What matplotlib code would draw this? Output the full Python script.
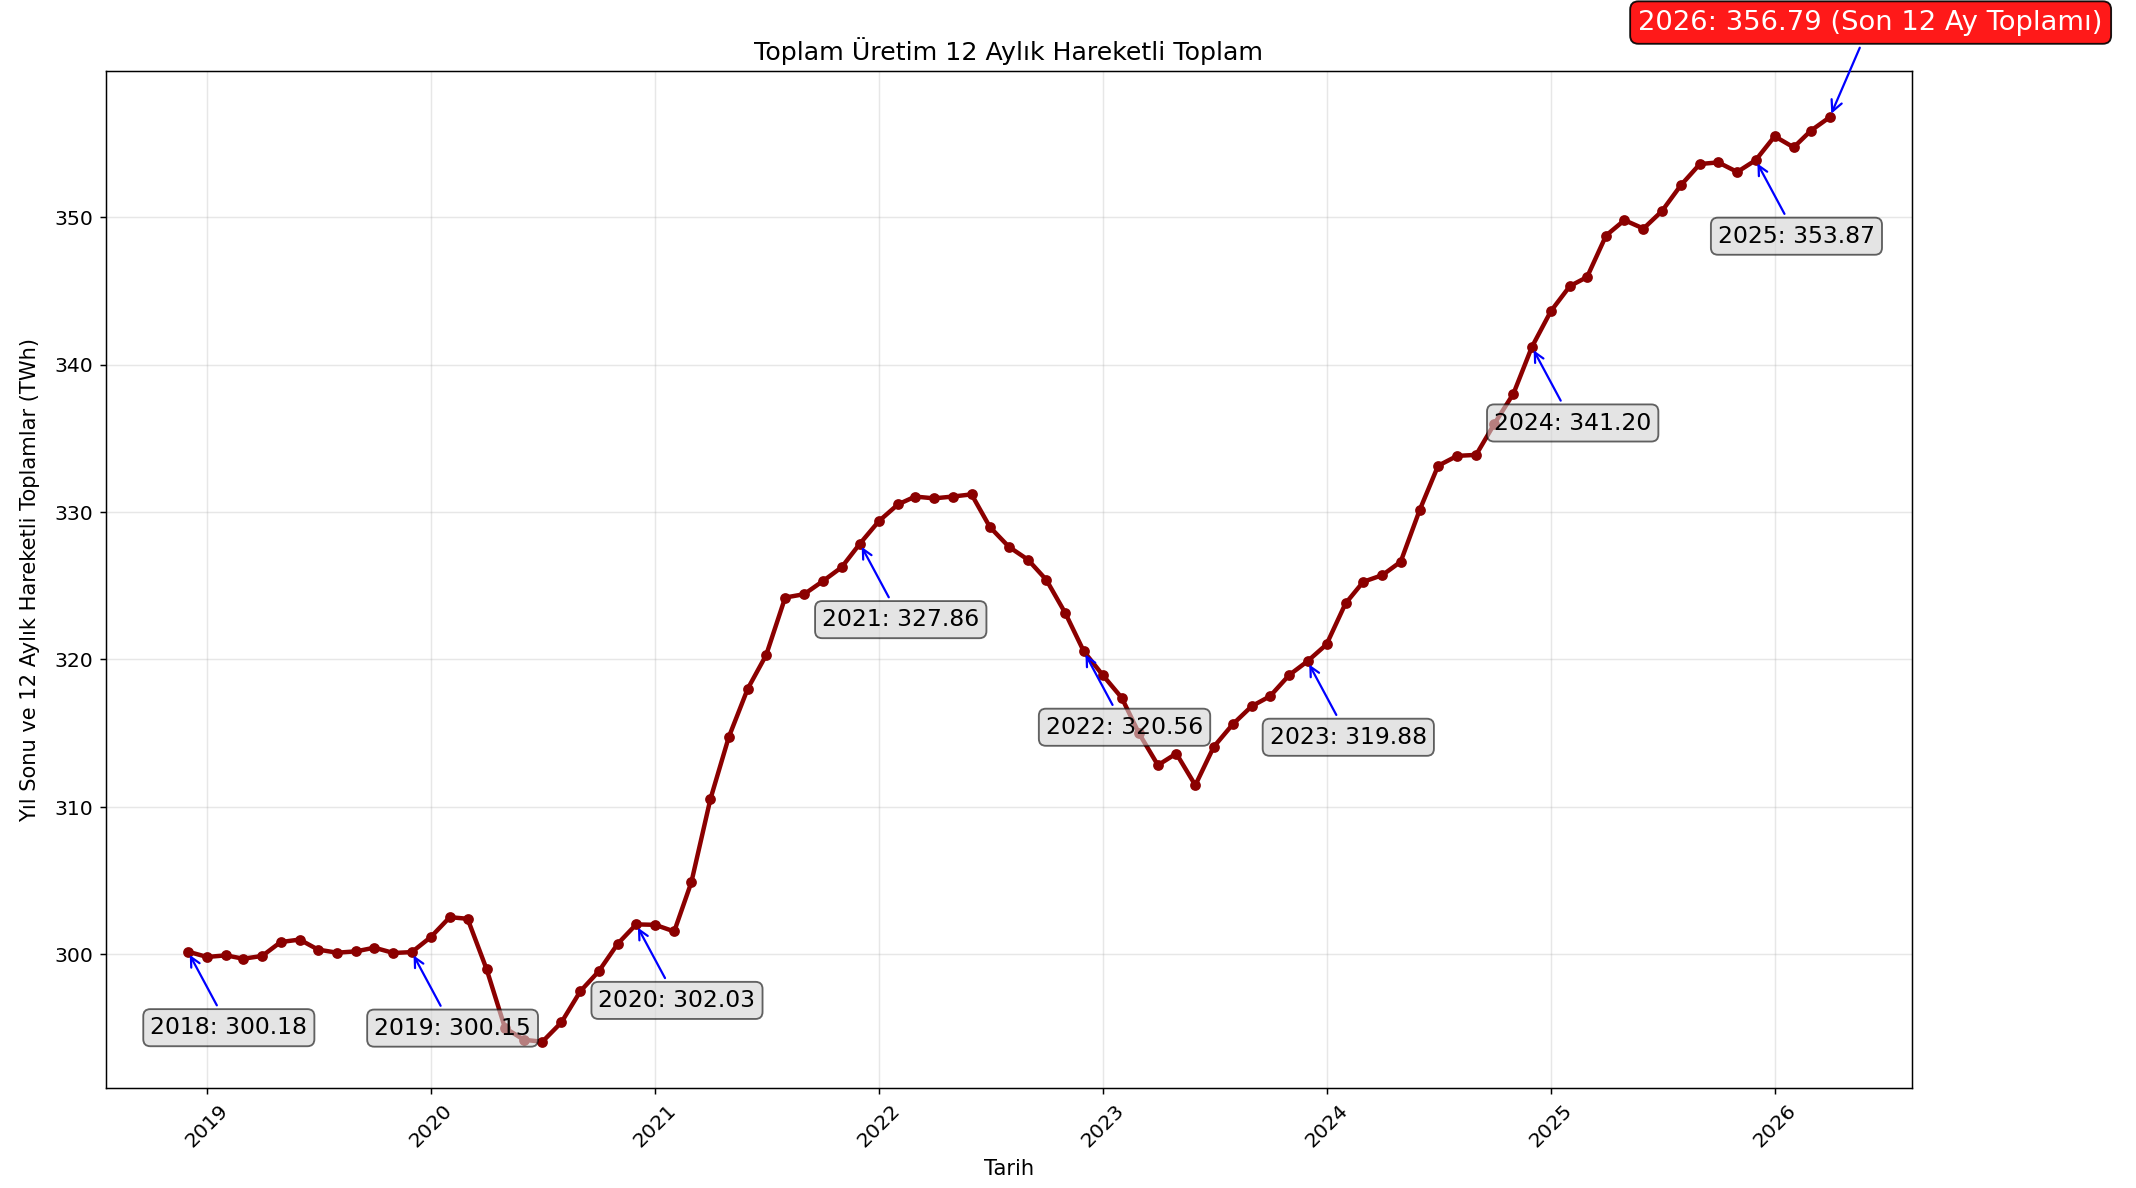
import pandas as pd
import matplotlib
matplotlib.use('Agg')
import matplotlib.pyplot as plt
import matplotlib.dates as mdates

# === Data: 12 month rolling total (TWh), monthly from Dec 2018 ===
start_month = '2018-12-01'
rolling_total = [
    300.18,
    299.82, 299.93, 299.70, 299.89, 300.83, 301.00, 300.32, 300.11, 300.20, 300.45, 300.09, 300.15,
    301.17, 302.52, 302.41, 298.99, 295.00, 294.20, 294.07, 295.38, 297.50, 298.85, 300.72, 302.03,
    302.00, 301.55, 304.89, 310.52, 314.73, 318.02, 320.30, 324.20, 324.43, 325.30, 326.25, 327.86,
    329.39, 330.52, 331.05, 330.93, 331.05, 331.20, 328.98, 327.64, 326.77, 325.40, 323.14, 320.56,
    318.94, 317.40, 315.00, 312.83, 313.62, 311.47, 314.07, 315.60, 316.83, 317.51, 318.94, 319.88,
    321.02, 323.80, 325.27, 325.72, 326.63, 330.14, 333.14, 333.81, 333.88, 336.00, 338.04, 341.20,
    343.63, 345.33, 345.94, 348.76, 349.80, 349.23, 350.41, 352.17, 353.61, 353.72, 353.07, 353.87,
    355.49, 354.74, 355.87, 356.79,
]
dates = pd.date_range(start_month, periods=len(rolling_total), freq='MS')
series = pd.Series(rolling_total, index=dates)

# year-end points (December) and the latest point
year_end = series[series.index.month == 12]
last_date, last_value = series.index[-1], series.iloc[-1]

# === Plot ===
fig = plt.figure(figsize=(16, 8.9), dpi=133.5)
ax = fig.add_axes([0.0496, 0.0842, 0.8455, 0.856])

ax.plot(series.index, series.values, color='darkred', linewidth=2.4,
        marker='o', markersize=4.8)

for d, v in year_end.items():
    ax.annotate(f'{d.year}: {v:.2f}', xy=(d, v), xytext=(22, -41),
                textcoords='offset points', ha='center', va='center',
                fontsize=12.7,
                bbox=dict(boxstyle='round,pad=0.3', fc='lightgray', ec='black', alpha=0.6),
                arrowprops=dict(arrowstyle='->', color='blue', lw=1.2))

ax.annotate(f'{last_date.year}: {last_value:.2f} (Son 12 Ay Toplamı)',
            xy=(last_date, last_value), xytext=(22, 51),
            textcoords='offset points', ha='center', va='center',
            fontsize=14.8, color='white',
            bbox=dict(boxstyle='round,pad=0.3', fc='red', ec='black', alpha=0.9),
            arrowprops=dict(arrowstyle='->', color='blue', lw=1.2),
            annotation_clip=False)

ax.set_title('Toplam Üretim 12 Aylık Hareketli Toplam', fontsize=13.6)
ax.set_xlabel('Tarih', fontsize=11.3)
ax.set_ylabel('Yıl Sonu ve 12 Aylık Hareketli Toplamlar (TWh)', fontsize=11.3, labelpad=7.5)
ax.xaxis.set_major_locator(mdates.YearLocator())
ax.xaxis.set_major_formatter(mdates.DateFormatter('%Y'))
ax.tick_params(labelsize=11)
plt.setp(ax.get_xticklabels(), rotation=45)
ax.grid(True, alpha=0.3)

plt.savefig('out.png', dpi=133.5)
